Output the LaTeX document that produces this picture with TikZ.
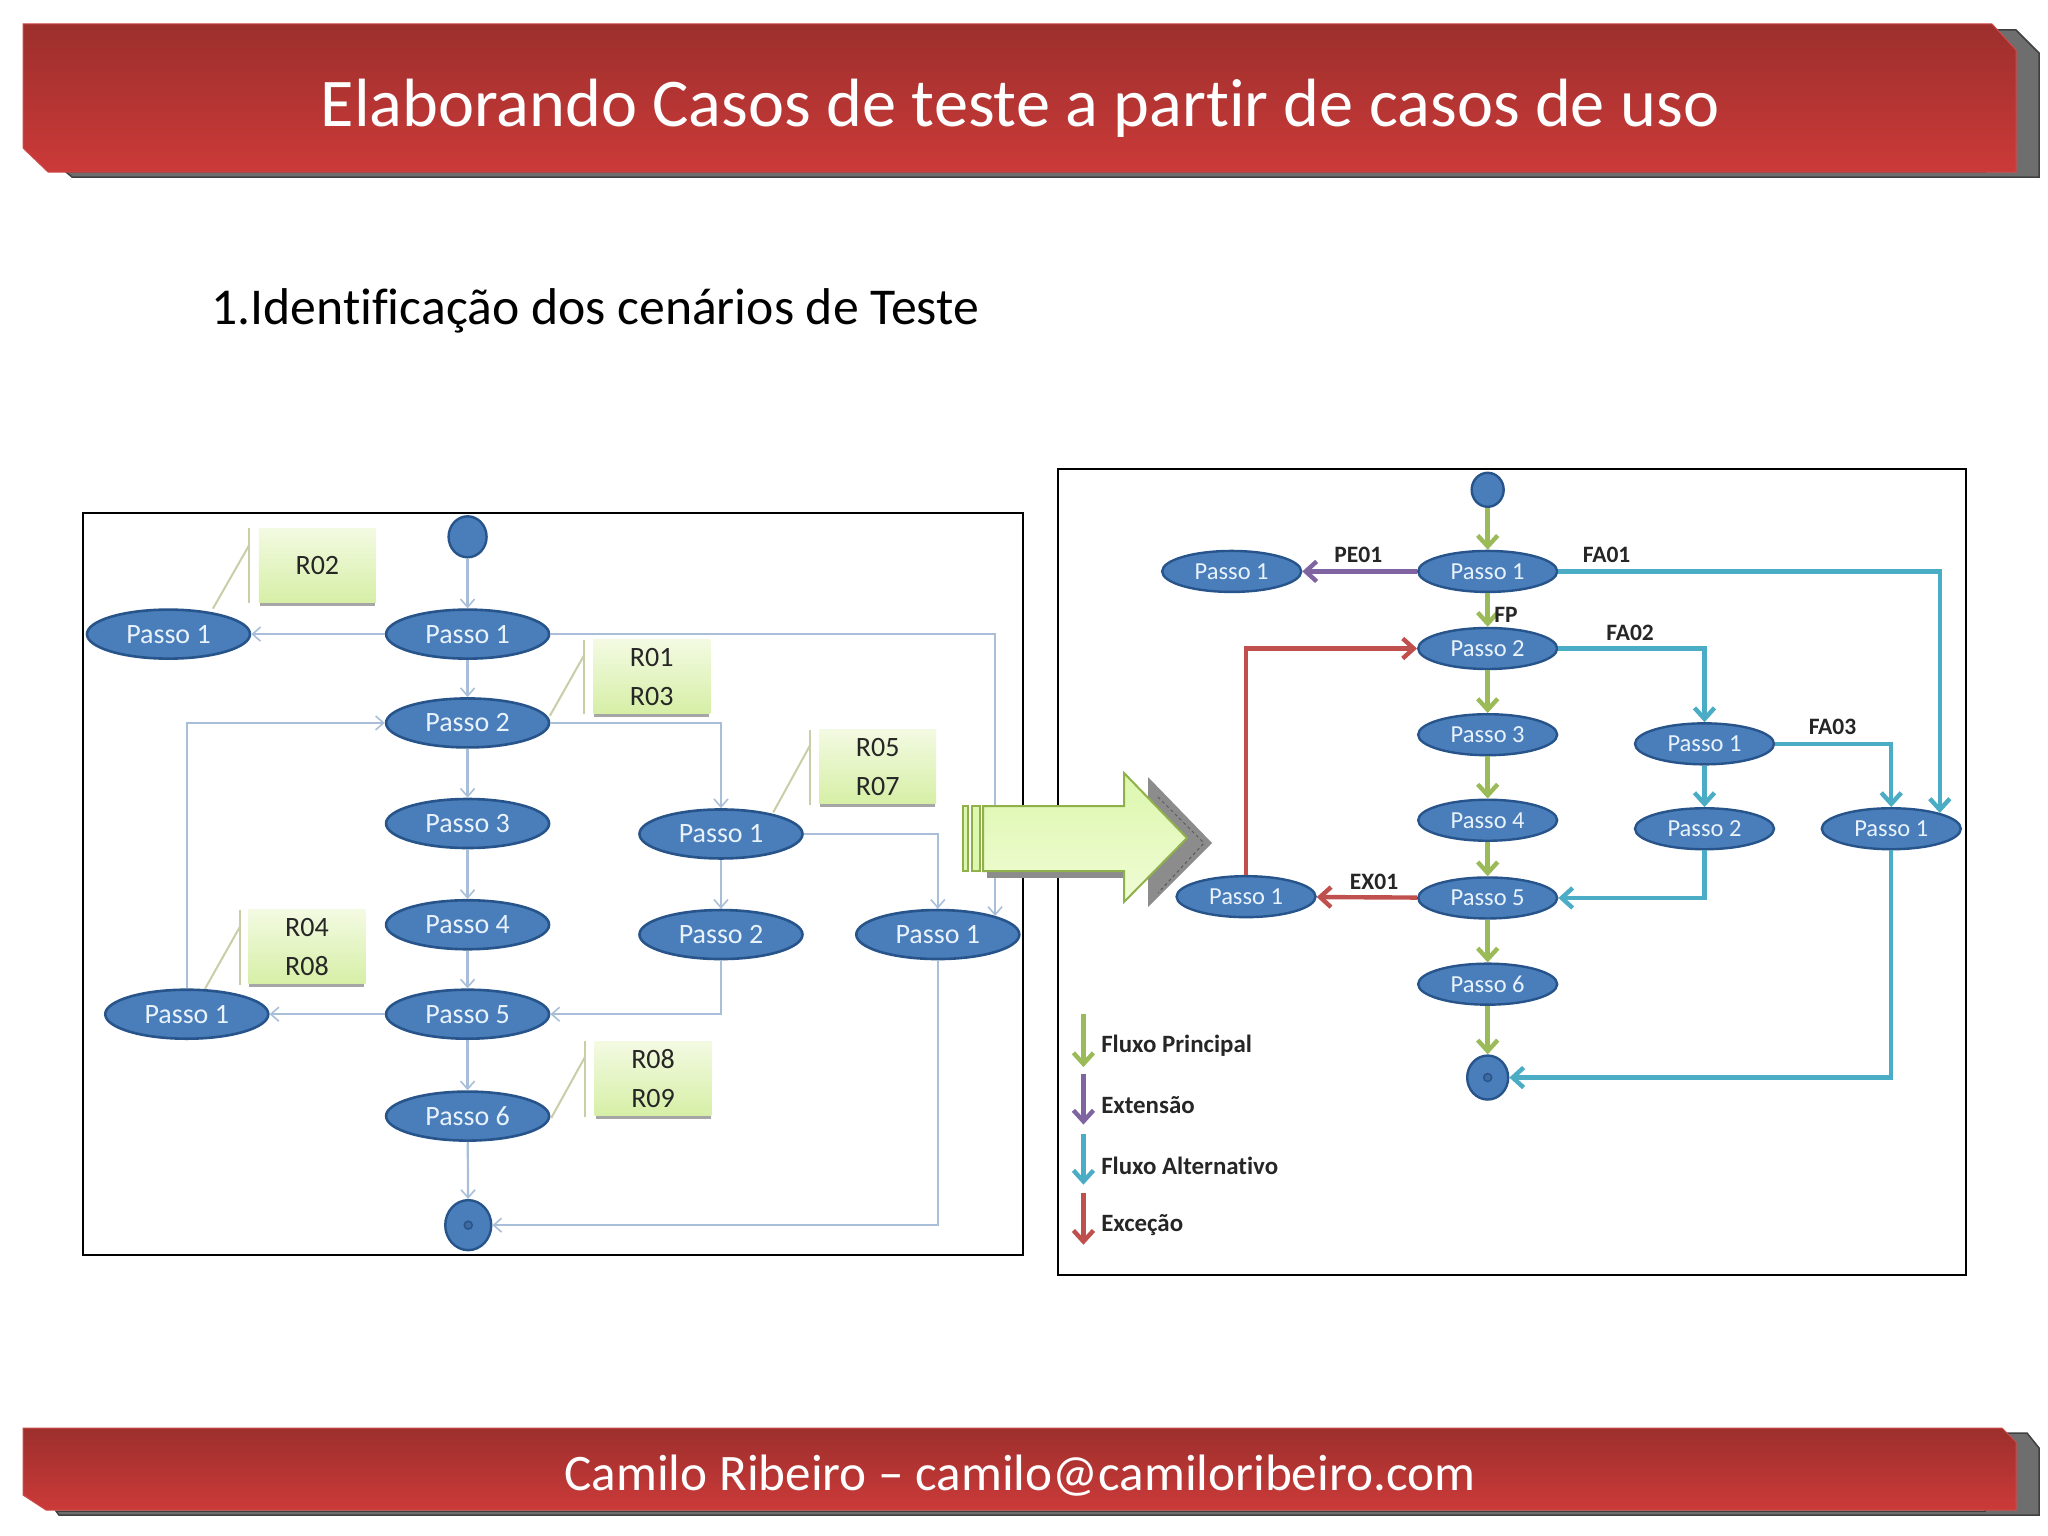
\documentclass[tikz,border=0pt]{standalone}
\usepackage{fontspec}
\setmainfont[Ligatures=NoCommon]{Carlito}
\usetikzlibrary{shapes.geometric,arrows.meta,calc}
\definecolor{barTop}{HTML}{9C2F2C}
\definecolor{barBot}{HTML}{CB3A39}
\definecolor{barEdge}{HTML}{CF4A4A}
\definecolor{shadowGrey}{HTML}{6E6E6E}
\definecolor{ellFill}{HTML}{4A7EBB}
\definecolor{ellLine}{HTML}{27548A}
\definecolor{ellText}{HTML}{E8F2FB}
\definecolor{thinBlue}{HTML}{A9BFD9}
\definecolor{noteLine}{HTML}{C9CDA8}
\definecolor{noteTop}{HTML}{F3FAE2}
\definecolor{noteBot}{HTML}{D6EFA6}
\definecolor{flowG}{HTML}{9BBB59}
\definecolor{flowP}{HTML}{8064A2}
\definecolor{flowB}{HTML}{4BACC6}
\definecolor{flowR}{HTML}{C0504D}
\definecolor{arrowTop}{HTML}{DCF7AE}
\definecolor{arrowBot}{HTML}{F0FCD4}
\definecolor{arrowLine}{HTML}{8FB04A}
\tikzset{
  redbar/.style={top color=barTop,bottom color=barBot,draw=barEdge,line width=1pt},
  greybar/.style={fill=shadowGrey,draw=black!75,line width=1.5pt},
  panel/.style={draw=black,line width=2pt,fill=white},
  stateA/.style={ellipse,fill=ellFill,draw=ellLine,line width=2.6pt,inner sep=0pt,
     minimum width=163pt,minimum height=49pt,text=ellText,font=\fontsize{28}{30}\selectfont},
  stateB/.style={ellipse,fill=ellFill,draw=ellLine,line width=2.4pt,inner sep=0pt,
     minimum width=139pt,minimum height=41pt,text=ellText,font=\fontsize{24.5}{26}\selectfont},
  dotA/.style={ellipse,fill=ellFill,draw=ellLine,line width=2.4pt,inner sep=0pt},
  innerdot/.style={circle,draw=ellLine,line width=1.5pt,fill=ellFill!85!black,inner sep=0pt,minimum size=8pt},
  note/.style={rectangle,inner sep=0pt,minimum width=117pt,minimum height=74pt,
     top color=noteTop,bottom color=noteBot,align=center,text=black!85,
     font=\fontsize{28}{39}\selectfont},
  thinflow/.style={draw=thinBlue,line width=2.2pt,-{Straight Barb[length=8pt,width=14pt,line width=1.6pt]}},
  noteconn/.style={draw=noteLine,line width=2pt},
  noteshadow/.style={draw=black!35,line width=4pt},
  flow/.style={line width=4.4pt,-{Straight Barb[length=11pt,width=20pt,line width=4.4pt]}},
  flowlabel/.style={inner sep=0pt,font=\bfseries\fontsize{23.5}{25}\selectfont,text=black!85},
  legendlabel/.style={inner sep=0pt,anchor=west,font=\bfseries\fontsize{24.9}{26}\selectfont,text=black!85},
}
\begin{document}
\begin{tikzpicture}[x=1pt,y=-1pt]
\useasboundingbox (0,0) rectangle (2048,1536);
\fill[white] (0,0) rectangle (2048,1536);
% header
\draw[greybar] (66,172) -- (72,177) -- (2039,177) -- (2039,53) -- (2016,30) -- (1985,30) -- (1985,172) -- cycle;
\draw[redbar] (23,24) -- (1992,24) -- (2016,50) -- (2016,172) -- (48,172) -- (23,148) -- cycle;
\node[text=white,inner sep=0pt,font=\fontsize{68.3}{72}\selectfont] (title) at (1020,108) {Elaborando Casos de teste a partir de casos de uso};
% footer
\draw[greybar] (56,1511) -- (59,1515) -- (2039,1515) -- (2039,1448) -- (2027,1433) -- (1985,1433) -- (1985,1511) -- cycle;
\draw[redbar] (23,1428) -- (2002,1428) -- (2016,1442) -- (2016,1510) -- (46,1510) -- (23,1495) -- cycle;
\node[text=white,inner sep=0pt,font=\fontsize{51.2}{54}\selectfont] (footer) at (1020,1476) {Camilo Ribeiro – camilo@camiloribeiro.com};
\node[anchor=west,inner sep=0pt,text=black,font=\fontsize{51.7}{54}\selectfont] (subtitle) at (211,311) {1.Identificação dos cenários de Teste};

\begin{scope}[x=1.30612pt,y=-1.30612pt]
% ---------- left panel
\draw[panel] (63.4,393) rectangle (783,961);
\foreach \nm/\xa/\ya/\xb/\yb/\xc/\ytop/\ybot in {
   a/163/466/191/417/191/404/462,
   b/421/548/447/502/447/490/547,
   c/592/622/620/571/620/559/616,
   d/157/757/184/709/184/697/754,
   e/422/856/448/809/448/797/855}{
  \coordinate (\nm s) at (\xa,\ya);
  \coordinate (\nm k) at (\xb,\yb);
  \coordinate (\nm t) at (\xc,\ytop);
  \coordinate (\nm u) at (\xc,\ybot);
  \draw[noteconn] (\nm s) -- (\nm k);
  \draw[noteconn] (\nm t) -- (\nm u);
}
\foreach \cx/\cy in {243/433,499/518,672/587,235/725,500/826}{
  \draw[noteshadow] (\cx-44,\cy+29.5) -- (\cx+44,\cy+29.5);
}
\node[note] (n1) at (243,433) {R02};
\node[note] (n2) at (499,518) {R01\\R03};
\node[note] (n3) at (672,587) {R05\\R07};
\node[note] (n4) at (235,725) {R04\\R08};
\node[note] (n5) at (500,826) {R08\\R09};

\node[dotA,minimum width=38pt,minimum height=41pt] (ls) at (358,411) {};
\node[stateA] (lp1) at (358,485.5) {Passo 1};
\node[stateA] (lx)  at (129,485.5) {Passo 1};
\node[stateA] (lp2) at (358,553.5) {Passo 2};
\node[stateA] (lp3) at (358,630.5) {Passo 3};
\node[stateA] (lp4) at (358,708) {Passo 4};
\node[stateA] (lp5) at (358,776.5) {Passo 5};
\node[stateA] (lp6) at (358,854.5) {Passo 6};
\node[dotA,minimum width=46pt,minimum height=50pt] (le) at (358.5,938) {};
\node[innerdot] (lei) at (358.5,938) {};
\node[stateA] (la1) at (552,638.5) {Passo 1};
\node[stateA] (la2) at (552,715.5) {Passo 2};
\node[stateA] (lb1) at (718,715.5) {Passo 1};
\node[stateA] (lc1) at (143,776.5) {Passo 1};

\draw[thinflow] (ls) -- (lp1);
\draw[thinflow] (lp1) -- (lx);
\draw[thinflow] (lp1) -- (lp2);
\draw[thinflow] (lp2) -- (lp3);
\draw[thinflow] (lp3) -- (lp4);
\draw[thinflow] (lp4) -- (lp5);
\draw[thinflow] (lp5) -- (lp6);
\draw[thinflow] (lp6) -- (le);
\draw[thinflow] (la1) -- (la2);
\draw[thinflow] (lp5) -- (lc1);
\draw[thinflow] (lp1.east) -| (lb1.18);
\draw[thinflow] (lp2.east) -| (la1.north);
\draw[thinflow] (la1.east) -| (lb1.north);
\draw[thinflow] (la2.south) |- (lp5.east);
\draw[thinflow] (lc1.north) |- (lp2.west);
\draw[thinflow] (lb1.south) |- (le.east);

% ---------- right panel
\draw[panel] (810.4,359) rectangle (1505,976);
\node[dotA,minimum width=32pt,minimum height=34pt] (rs) at (1139,375) {};
\node[stateB] (rp1) at (1139,437.5) {Passo 1};
\node[stateB] (rx)  at (943,437.5) {Passo 1};
\node[stateB] (rp2) at (1139,496.5) {Passo 2};
\node[stateB] (rp3) at (1139,562.5) {Passo 3};
\node[stateB] (rp4) at (1139,628) {Passo 4};
\node[stateB] (rp5) at (1139,687.5) {Passo 5};
\node[stateB] (rp6) at (1139,753.5) {Passo 6};
\node[dotA,minimum width=41pt,minimum height=44pt] (re) at (1139,825) {};
\node[innerdot] (rei) at (1139,825) {};
\node[stateB] (ra1) at (1305,569.5) {Passo 1};
\node[stateB] (ra2) at (1305,634.5) {Passo 2};
\node[stateB] (rb1) at (1448,634.5) {Passo 1};
\node[stateB] (rc1) at (954,686.5) {Passo 1};

\draw[flow,flowG] (rs) -- (rp1);
\draw[flow,flowG] (rp1) -- (rp2);
\draw[flow,flowG] (rp2) -- (rp3);
\draw[flow,flowG] (rp3) -- (rp4);
\draw[flow,flowG] (rp4) -- (rp5);
\draw[flow,flowG] (rp5) -- (rp6);
\draw[flow,flowG] (rp6) -- (re);
\draw[flow,flowP] (rp1) -- (rx);
\draw[flow,flowB] (rp1.east) -| (rb1.18);
\draw[flow,flowB] (rp2.east) -| (ra1.north);
\draw[flow,flowB] (ra1) -- (ra2);
\draw[flow,flowB] (ra1.east) -| (rb1.north);
\draw[flow,flowB] (ra2.south) |- (rp5.east);
\draw[flow,flowB] (rb1.south) |- (re.east);
\draw[flow,flowR] (rp5) -- (rc1);
\draw[flow,flowR] (rc1.north) |- (rp2.west);

\node[flowlabel] (lpe) at (1040,425) {PE01};
\node[flowlabel] (lf1) at (1230,425) {FA01};
\node[flowlabel] (lfp) at (1153,471) {FP};
\node[flowlabel] (lf2) at (1248,484.5) {FA02};
\node[flowlabel] (lf3) at (1403,556.5) {FA03};
\node[flowlabel] (lex) at (1052,675) {EX01};

% legend
\coordinate (g1) at (829.5,776); \coordinate (g2) at (829.5,817);
\coordinate (p1) at (829.5,822); \coordinate (p2) at (829.5,861);
\coordinate (b1) at (829.5,868); \coordinate (b2) at (829.5,907);
\coordinate (r1) at (829.5,913); \coordinate (r2) at (829.5,953);
\draw[flow,flowG] (g1) -- (g2);
\draw[flow,flowP] (p1) -- (p2);
\draw[flow,flowB] (b1) -- (b2);
\draw[flow,flowR] (r1) -- (r2);
\node[legendlabel] (t1) at (843,800.5) {Fluxo Principal};
\node[legendlabel] (t2) at (843,846) {Extensão};
\node[legendlabel] (t3) at (843,892.5) {Fluxo Alternativo};
\node[legendlabel] (t4) at (843,938) {Exceção};
\end{scope}

% big arrow
\fill[black!45] (987,868) rectangle (1130,878);
\fill[black!45] (1148,777) -- (1212,843) -- (1148,907) -- cycle;
\draw[black!65,line width=1pt,dashed] (1158,797) -- (1204,843) -- (1158,893);
\draw[arrowLine,line width=2pt,fill=arrowTop] (963,806) rectangle (968,871);
\draw[arrowLine,line width=2pt,fill=arrowTop] (972,806) rectangle (980,871);
\draw[arrowLine,line width=2pt,top color=arrowTop,bottom color=arrowBot]
  (983,806) -- (1124,806) -- (1124,773) -- (1187,838) -- (1124,902) -- (1124,871) -- (983,871) -- cycle;
\end{tikzpicture}
\end{document}
